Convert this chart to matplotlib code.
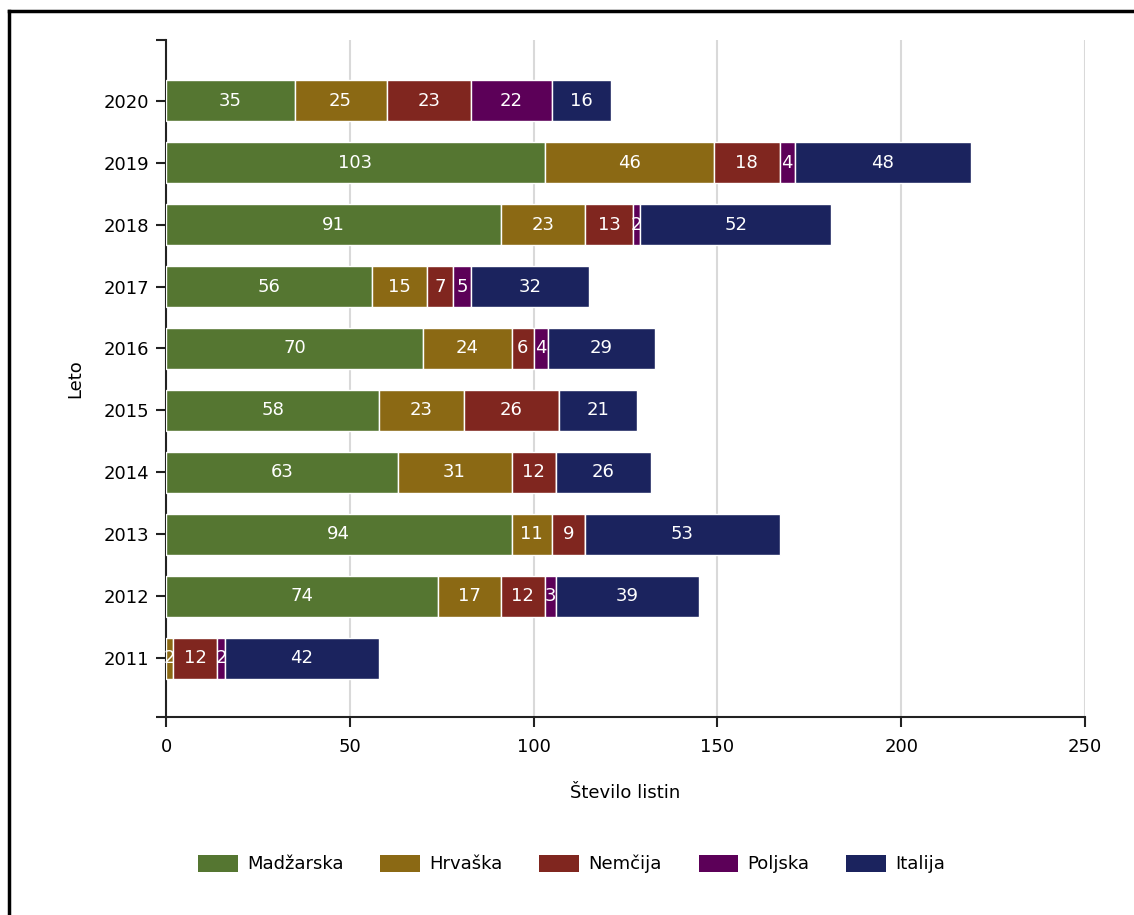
import matplotlib
matplotlib.use("Agg")
import matplotlib.pyplot as plt
import numpy as np
from matplotlib.lines import Line2D
from matplotlib.patches import Patch

plt.rcParams["font.family"] = ["DejaVu Sans"]

years = ["2011", "2012", "2013", "2014", "2015", "2016", "2017", "2018", "2019", "2020"]
series_names = ["Madžarska", "Hrvaška", "Nemčija", "Poljska", "Italija"]
madzarska = [0, 74, 94, 63, 58, 70, 56, 91, 103, 35]
hrvaska = [2, 17, 11, 31, 23, 24, 15, 23, 46, 25]
nemcija = [12, 12, 9, 12, 26, 6, 7, 13, 18, 23]
poljska = [2, 3, 0, 0, 0, 4, 5, 2, 4, 22]
italija = [42, 39, 53, 26, 21, 29, 32, 52, 48, 16]
x_ticks = [0, 50, 100, 150, 200, 250]

colors = ["#557631", "#8B6914", "#80261F", "#5C0058", "#1B235E"]
FS = 13

W, H = 1134, 915
fig = plt.figure(figsize=(W / 100, H / 100), dpi=100)
ax = fig.add_axes([166 / W, 1 - 717 / H, (1085 - 166) / W, (717 - 40) / H])

y = np.arange(len(years))
left = np.zeros(len(years))
for name, vals, col in zip(series_names, [madzarska, hrvaska, nemcija, poljska, italija], colors):
    vals = np.array(vals, dtype=float)
    bars = ax.barh(y, vals, left=left, height=0.66, color=col, edgecolor="white",
                   linewidth=1, zorder=3)
    for b, v in zip(bars, vals):
        if v > 0:
            ax.text(b.get_x() + b.get_width() / 2, b.get_y() + b.get_height() / 2,
                    f"{int(v)}", ha="center", va="center", color="white",
                    fontsize=FS, zorder=4)
    left += vals

ax.set_xlim(0, 250)
ax.set_ylim(-0.95, 9.98)
ax.set_xticks(x_ticks)
ax.set_yticks(y)
ax.set_yticklabels(years)
ax.set_yticks([-0.95, 9.98], minor=True)
ax.tick_params(axis="both", labelsize=FS, length=7, width=1.5, color="#222222")
ax.tick_params(axis="y", which="minor", length=7, width=1.5, color="#222222")
ax.tick_params(axis="x", pad=8)
ax.tick_params(axis="y", pad=5)
ax.grid(axis="x", color="#d9d9d9", linewidth=1.5, zorder=0)
for s in ["top", "right"]:
    ax.spines[s].set_visible(False)
for s in ["left", "bottom"]:
    ax.spines[s].set_linewidth(1.5)
    ax.spines[s].set_color("#222222")

ax.set_xlabel("Število listin", fontsize=FS, labelpad=20)
ax.set_ylabel("Leto", fontsize=FS, labelpad=14)

handles = [Patch(facecolor=c, edgecolor="none") for c in colors]
fig.legend(handles, series_names, loc="center", bbox_to_anchor=(0.504, 1 - 864 / H), ncol=5,
           frameon=False, fontsize=FS, handlelength=2.2, handleheight=1.1,
           columnspacing=2.05, handletextpad=0.5)

# figure frame (top and left edges visible)
fig.add_artist(Line2D([8.5 / W, 8.5 / W], [0, 1 - 11 / H], transform=fig.transFigure,
                      color="black", linewidth=2.5))
fig.add_artist(Line2D([8.5 / W, 1], [1 - 11 / H, 1 - 11 / H], transform=fig.transFigure,
                      color="black", linewidth=2.5))

fig.savefig("out.png", dpi=100)
